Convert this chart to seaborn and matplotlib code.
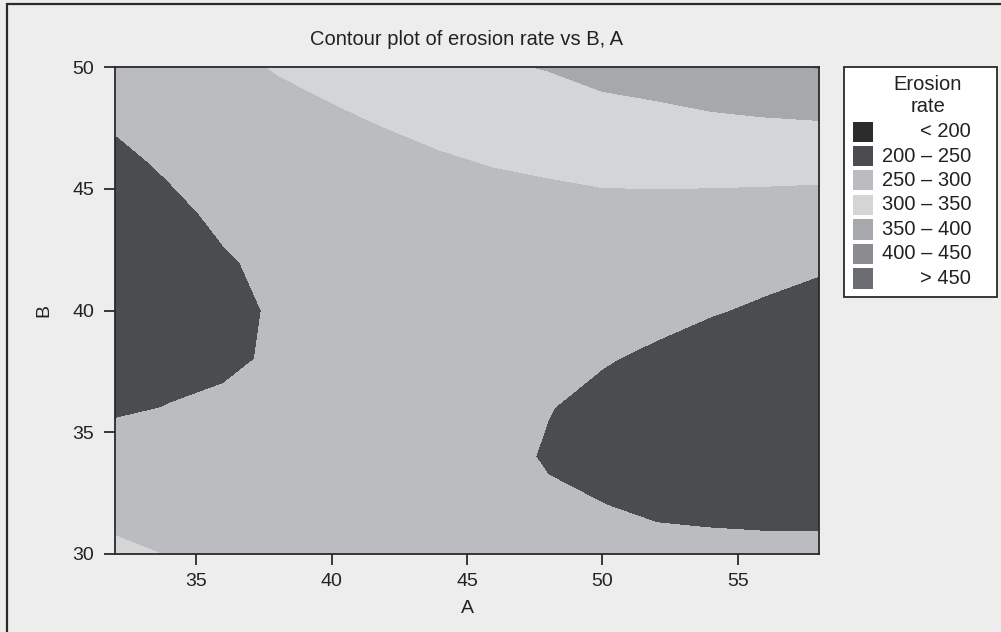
import numpy as np
import pandas as pd
import seaborn as sns
import matplotlib.pyplot as plt
from matplotlib.patches import Rectangle

# Grid of factor settings
A = [32, 34, 36, 38, 40, 42, 44, 46, 48, 50, 52, 54, 56, 58]
B = [30, 32, 34, 36, 38, 40, 42, 44, 46, 48, 50]

# Erosion rate, one list per A column (B from 30 up to 50)
a32 = [306, 290, 268, 245, 232, 226, 226, 232, 242, 255, 272]
a34 = [299, 284, 265, 251, 240, 235, 236, 243, 254, 268, 285]
a36 = [292, 278, 264, 254, 246, 243, 247, 256, 268, 283, 296]
a38 = [287, 275, 264, 257, 253, 253, 257, 265, 277, 295, 301]
a40 = [283, 273, 265, 260, 258, 259, 263, 271, 283, 296, 311]
a42 = [280, 271, 265, 261, 260, 262, 267, 276, 288, 304, 320]
a44 = [277, 269, 264, 261, 261, 264, 270, 280, 295, 312, 330]
a46 = [273, 265, 260, 258, 259, 263, 271, 283, 301, 321, 345]
a48 = [266, 255, 247, 251, 256, 263, 273, 287, 305, 328, 352]
a50 = [262, 250.5, 240, 242, 252, 262, 275, 290, 309, 338, 362]
a52 = [259, 245, 234, 230, 245, 258, 272, 289, 311, 342, 368]
a54 = [258, 243, 231, 225, 230, 253, 269, 287, 312, 347, 380]
a56 = [257, 242, 229, 222, 225, 244, 264, 284, 313, 351, 388]
a58 = [257, 242, 228, 220, 222, 238, 255, 281, 313, 354, 402]

levels = [0, 200, 250, 300, 350, 400, 450, 1000]
level_labels = ['< 200', '200 \u2013 250', '250 \u2013 300', '300 \u2013 350',
                '350 \u2013 400', '400 \u2013 450', '> 450']
colors = ['#2c2c2e', '#4b4c4f', '#bbbcbf', '#d4d5d7', '#a7a8ab', '#8b8c8f', '#6c6d70']

cols = [a32, a34, a36, a38, a40, a42, a44, a46, a48, a50, a52, a54, a56, a58]
df = pd.DataFrame(np.column_stack(cols), index=B, columns=A)

sns.set_theme(style='white')
plt.rcParams['font.family'] = ['Liberation Sans', 'DejaVu Sans']

W, H = 1001, 632
fig = plt.figure(figsize=(W / 100, H / 100), dpi=100, facecolor='#ededed')
ax = fig.add_axes([115 / W, 1 - 554 / H, (819 - 115) / W, (554 - 67) / H])

ax.contourf(df.columns.values, df.index.values, df.values, levels=levels, colors=colors)

ax.set_xlim(32, 58)
ax.set_ylim(30, 50)
ax.set_xticks([35, 40, 45, 50, 55])
ax.set_yticks([30, 35, 40, 45, 50])
ax.tick_params(direction='out', length=8, width=1.3, color='#2a2a2a',
               labelsize=14, labelcolor='#222222', left=True, bottom=True)
ax.tick_params(axis='x', pad=6)
ax.tick_params(axis='y', pad=7)
for s in ax.spines.values():
    s.set_color('#2a2a2a')
    s.set_linewidth(1.3)
ax.set_xlabel('A', fontsize=14, color='#222222', labelpad=7)
ax.set_ylabel('B', fontsize=14, color='#222222', labelpad=14)
ax.set_title('Contour plot of erosion rate vs B, A', fontsize=14.5, color='#222222', pad=16)


def px(x, y):
    return (x / W, 1 - y / H)


# outer frame (only left/top edges fall inside the picture)
fig.add_artist(Rectangle(px(7, 700), 1.2, (700 - 4) / H, transform=fig.transFigure,
                         fill=False, edgecolor='#2a2a2a', linewidth=1.6, clip_on=False))

# legend box
fig.add_artist(Rectangle(px(844, 297), 153 / W, 230 / H, transform=fig.transFigure,
                         facecolor='white', edgecolor='#2a2a2a', linewidth=1.3))
fig.text(*px(928, 84), 'Erosion', ha='center', va='center', fontsize=14.5, color='#222222')
fig.text(*px(928, 107), 'rate', ha='center', va='center', fontsize=14.5, color='#222222')
for i, (lab, c) in enumerate(zip(level_labels, colors)):
    yc = 131.5 + i * 24.5
    fig.add_artist(Rectangle(px(853, yc + 10), 20 / W, 20 / H, transform=fig.transFigure,
                             facecolor=c, edgecolor='none'))
    fig.text(*px(971, yc), lab, ha='right', va='center', fontsize=14.5, color='#222222')

fig.savefig('out.png', dpi=100, facecolor=fig.get_facecolor())
